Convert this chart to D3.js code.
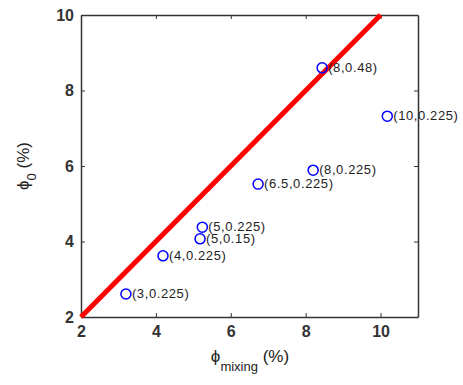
<!DOCTYPE html>
<html>
<head>
<meta charset="utf-8">
<script src="https://cdn.jsdelivr.net/npm/d3@7"></script>
<style>
  body { margin: 0; background: #fff; }
  svg { font-family: Arial, 'Liberation Sans', sans-serif; }
  .tick text { font-size: 16px; fill: #222; }
  .domain { stroke: #333; stroke-width: 1.5; }
  .tick line { stroke: #333; }
</style>
</head>
<body>
<div class="chart"></div>
<script>
const labels = ['(3,0.225)', '(4,0.225)', '(5,0.15)', '(5,0.225)', '(6.5,0.225)', '(8,0.225)', '(8,0.48)', '(10,0.225)']
const phiMixing = [3.2, 4.19, 5.18, 5.24, 6.73, 8.2, 8.44, 10.18]
const phiZero = [2.61, 3.62, 4.07, 4.38, 5.52, 5.89, 8.6, 7.32]
const lineX = [2, 10]
const lineY = [2, 10]
const xTicks = [2, 4, 6, 8, 10]
const yTicks = [2, 4, 6, 8, 10]

const margin = {top: 15, right: 45, bottom: 68, left: 81}
const width = 463 - margin.left - margin.right
const height = 385 - margin.top - margin.bottom

const svg = d3.select('.chart').append('svg')
  .attr('width', 463)
  .attr('height', 385)

const g = svg.append('g')
  .attr('transform', `translate(${margin.left},${margin.top})`)

const x = d3.scaleLinear().domain([2, 11]).range([0, width])
const y = d3.scaleLinear().domain([2, 10]).range([height, 0])

// box with inward ticks on all sides
g.append('g').attr('transform', `translate(0,${height})`)
  .call(d3.axisBottom(x).tickValues(xTicks).tickSizeInner(-4).tickSizeOuter(0).tickPadding(9))
g.append('g')
  .call(d3.axisLeft(y).tickValues(yTicks).tickSizeInner(-4).tickSizeOuter(0).tickPadding(7))
g.append('g')
  .call(d3.axisTop(x).tickValues(xTicks).tickSizeInner(-4).tickSizeOuter(0).tickFormat(''))
g.append('g').attr('transform', `translate(${width},0)`)
  .call(d3.axisRight(y).tickValues(yTicks).tickSizeInner(-4).tickSizeOuter(0).tickFormat(''))

g.selectAll('.tick text').style('font-weight', 'bold').style('fill', '#333')

// 1:1 line
const pts = lineX.map((v, i) => [v, lineY[i]])
g.append('path')
  .datum(pts)
  .attr('fill', 'none')
  .attr('stroke', '#ff0000')
  .attr('stroke-width', 5)
  .attr('d', d3.line().x(d => x(d[0])).y(d => y(d[1])))

const data = labels.map((l, i) => ({ label: l, px: phiMixing[i], py: phiZero[i] }))

g.selectAll('circle.item').data(data).enter().append('circle')
  .attr('class', 'item')
  .attr('cx', d => x(d.px))
  .attr('cy', d => y(d.py))
  .attr('r', 5)
  .attr('fill', 'none')
  .attr('stroke', '#0000ff')
  .attr('stroke-width', 1.5)

g.selectAll('text.lbl').data(data).enter().append('text')
  .attr('class', 'lbl')
  .attr('x', d => x(d.px) + 6)
  .attr('y', d => y(d.py) + 4)
  .attr('font-size', 13)
  .attr('letter-spacing', 0.6)
  .attr('fill', '#222')
  .text(d => d.label)

// axis labels
const xl = svg.append('text')
  .attr('x', 250)
  .attr('y', 362)
  .attr('text-anchor', 'middle')
  .attr('font-size', 17)
  .attr('fill', '#222')
xl.append('tspan').text('ϕ')
xl.append('tspan').attr('font-size', 13).attr('dy', 9).text('mixing')
xl.append('tspan').attr('dy', -9).text(' (%)')

const yl = svg.append('text')
  .attr('transform', 'translate(29,166) rotate(-90)')
  .attr('text-anchor', 'middle')
  .attr('font-size', 17)
  .attr('fill', '#222')
yl.append('tspan').text('ϕ')
yl.append('tspan').attr('font-size', 13).attr('dy', 7).text('0')
yl.append('tspan').attr('dy', -7).text(' (%)')
</script>
</body>
</html>
